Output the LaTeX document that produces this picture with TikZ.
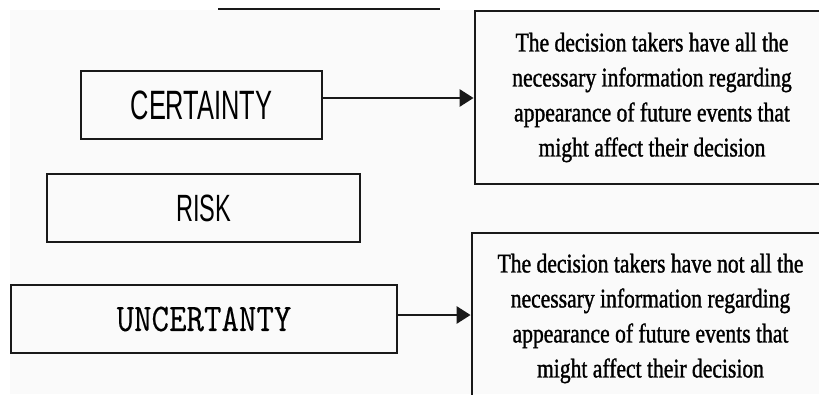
\documentclass[tikz,border=0pt]{standalone}
\usepackage{fontspec}
\usetikzlibrary{arrows.meta}
\newfontfamily\sansnarrow[FakeStretch=0.62]{Liberation Sans}
\newfontfamily\mononarrow[FakeStretch=0.87,FakeBold=0.3]{Latin Modern Mono}
\newfontfamily\serifnarrow[FakeStretch=0.80,FakeBold=1.2]{Liberation Serif}
\tikzset{
  catbox/.style={draw=black!90, line width=2.8pt, rectangle, minimum height=68pt, inner sep=0pt},
  ansbox/.style={draw=black!90, line width=2.8pt, rectangle, inner sep=0pt, align=center,
    font={\serifnarrow\fontsize{27}{35}\selectfont}},
  conn/.style={draw=black!90, line width=2.8pt, -{Triangle[length=14pt,width=17pt]}}
}
\begin{document}
\begin{tikzpicture}[x=1pt,y=-1pt]
\useasboundingbox (0,0) rectangle (819,394);
\fill[black!2] (10,10) rectangle (819,394);
\coordinate (tl1) at (218,9);
\coordinate (tl2) at (440,9);
\draw[line width=1.2pt, black!90] (tl1) -- (tl2);
\node[catbox, minimum width=241pt, font={\sansnarrow\fontsize{41}{41}\selectfont}] (cert) at (201.5,105) {CERTAINTY};
\node[catbox, minimum width=313pt, font={\sansnarrow\fontsize{38}{38}\selectfont}] (risk) at (203.5,208) {RISK};
\node[catbox, minimum width=386pt, font={\mononarrow\fontsize{39}{39}\selectfont}] (unc) at (204,319) {UNCERTANTY};
\node[ansbox, minimum width=354pt, minimum height=173pt] (ans1) at (652,97.5)
  {The decision takers have all the\\necessary information regarding\\appearance of future events that\\might affect their decision};
\node[ansbox, minimum width=357pt, minimum height=171pt] (ans2) at (650.5,318.5)
  {The decision takers have not all the\\necessary information regarding\\appearance of future events that\\might affect their decision};
\draw[conn] ([yshift=7pt]cert.east) -- ([yshift=7pt]cert.east -| ans1.west);
\draw[conn] ([yshift=4pt]unc.east) -- ([yshift=4pt]unc.east -| ans2.west);
\end{tikzpicture}
\end{document}
